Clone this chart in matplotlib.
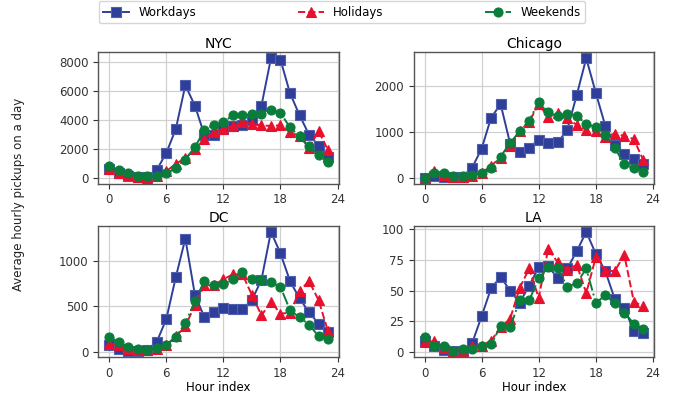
import numpy as np
import matplotlib.pyplot as plt

hours = np.arange(24)
cities = ["NYC", "Chicago", "DC", "LA"]

nyc_work = [650, 350, 150, 80, 100, 600, 1750, 3400, 6400, 5000, 3000, 2950,
            3400, 3600, 3700, 4000, 5000, 8250, 8150, 5850, 4350, 3000, 2250, 1500]
nyc_hol = [650, 400, 250, 100, 50, 150, 500, 1000, 1400, 2000, 2700, 3200,
           3400, 3600, 3850, 3750, 3650, 3600, 3650, 3200, 2900, 2100, 3250, 1950]
nyc_wknd = [850, 550, 350, 200, 150, 150, 350, 700, 1300, 2150, 3300, 3700,
            3850, 4350, 4350, 4400, 4450, 4700, 4500, 3500, 2900, 2200, 1600, 1150]

chi_work = [0, 40, 10, 20, 20, 220, 630, 1310, 1600, 740, 550, 650,
            830, 760, 770, 1040, 1800, 2600, 1850, 1130, 720, 520, 400, 290]
chi_hol = [0, 150, 60, 20, 10, 40, 100, 260, 440, 690, 1010, 1220,
           1600, 1320, 1400, 1290, 1150, 1040, 1010, 890, 960, 910, 840, 380]
chi_wknd = [0, 110, 100, 40, 30, 60, 100, 220, 460, 760, 1010, 1240,
            1650, 1420, 1340, 1390, 1350, 1170, 1100, 940, 650, 290, 210, 130]

dc_work = [70, 35, 10, 5, 20, 110, 360, 825, 1250, 630, 380, 435,
           480, 470, 470, 570, 795, 1325, 1085, 780, 590, 435, 310, 215]
dc_hol = [90, 70, 25, 20, 20, 35, 70, 170, 280, 515, 735, 735,
          800, 855, 855, 625, 400, 550, 420, 430, 670, 780, 570, 225]
dc_wknd = [165, 105, 50, 35, 20, 45, 75, 165, 315, 555, 780, 735,
           745, 800, 880, 800, 790, 765, 715, 460, 380, 300, 170, 145]

la_work = [8.6, 5, 1.5, 1, 1, 7, 29, 52, 61, 50, 40, 54,
           69, 70, 60, 68, 82, 98, 80, 66, 43, 36, 17, 15]
la_hol = [8, 9, 3, 1, 0.5, 5, 5, 9, 20, 27, 52, 68,
          44, 84, 73, 67, 71, 48, 77, 66, 66, 79, 41, 37]
la_wknd = [12, 5, 5, 1, 2, 2, 5, 6, 21, 20, 42, 42,
           60, 69, 68, 53, 56, 68, 40, 46, 40, 32, 23, 19]

data = {
    "NYC": (nyc_work, nyc_hol, nyc_wknd),
    "Chicago": (chi_work, chi_hol, chi_wknd),
    "DC": (dc_work, dc_hol, dc_wknd),
    "LA": (la_work, la_hol, la_wknd),
}
yticks = {
    "NYC": [0, 2000, 4000, 6000, 8000],
    "Chicago": [0, 1000, 2000],
    "DC": [0, 500, 1000],
    "LA": [0, 25, 50, 75, 100],
}

labels = ["Workdays", "Holidays", "Weekends"]
colors = ["#2f3f99", "#e8112d", "#0a7d3b"]
edges = ["#5060b0", "#e8112d", "#0a7d3b"]
markers = ["s", "^", "o"]
styles = ["-", "--", "-."]

plt.rcParams['font.family'] = ['DejaVu Sans']
plt.rcParams['font.size'] = 9

fig, axes = plt.subplots(2, 2, figsize=(6.78, 3.96), dpi=100)
fig.subplots_adjust(left=0.145, right=0.965, top=0.868, bottom=0.098,
                    wspace=0.31, hspace=0.32)

lines = []
for ax, city in zip(axes.flat, cities):
    for k in range(3):
        ln, = ax.plot(hours, data[city][k], color=colors[k], linestyle=styles[k],
                      marker=markers[k], markersize=6.5, linewidth=1.4,
                      markeredgecolor=edges[k], markeredgewidth=0.8)
        lines.append(ln)
    ax.set_title(city, fontsize=10, pad=3)
    ax.set_xticks([0, 6, 12, 18, 24])
    ax.set_yticks(yticks[city])
    ax.grid(True, color="#d0d0d0", linewidth=0.9)
    ax.set_axisbelow(True)
    for s in ax.spines.values():
        s.set_color("#555555")
        s.set_linewidth(1.0)
    ax.tick_params(colors="#333333", labelsize=8.5, length=3.5, width=0.8)

axes[1, 0].set_xlabel("Hour index", fontsize=8.5, labelpad=1)
axes[1, 1].set_xlabel("Hour index", fontsize=8.5, labelpad=1)

fig.text(0.027, 0.51, "Average hourly pickups on a day", rotation=90,
         ha="center", va="center", fontsize=8.5, color="#222222")

fig.legend(lines[:3], labels, loc="lower left", ncol=3, mode="expand",
           bbox_to_anchor=(0.142, 0.935, 0.725, 0.06), fontsize=8.5,
           frameon=True, edgecolor="#cccccc", borderaxespad=0.2,
           handlelength=2.2)

fig.savefig("out.png")
